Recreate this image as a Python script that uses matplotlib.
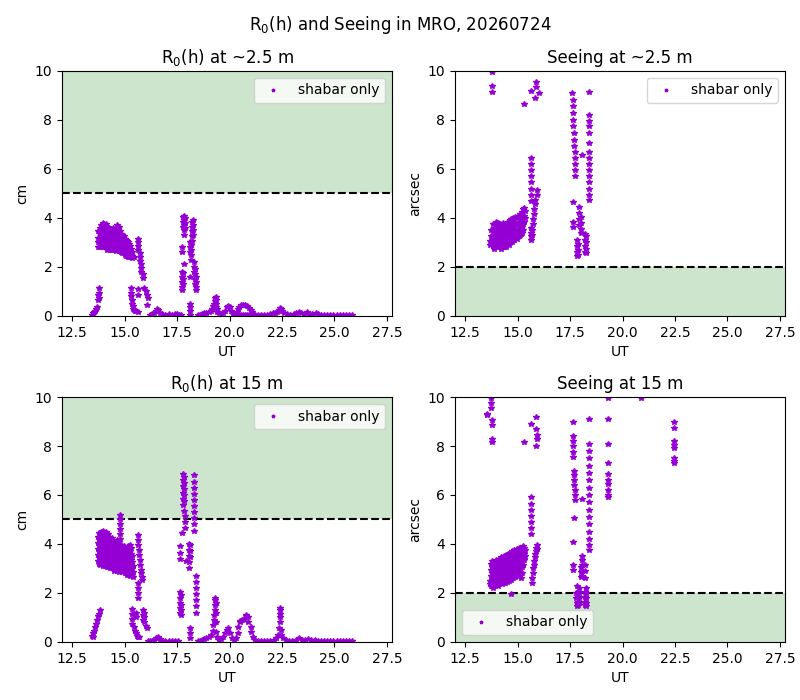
import matplotlib
matplotlib.use("Agg")
import matplotlib.pyplot as plt

# (UT, [values read at that UT])
r0_25_cols = [
    (13.45, [0.05]), (13.5, [0.1]), (13.55, [0.15]), (13.6, [0.2]), (13.65, [0.3]), (13.7, [0.35]),
    (13.75, [0.65, 0.85, 3.45, 3.2, 3.0, 2.8]),
    (13.8, [0.75, 0.95, 1.15]),
    (13.85, [3.6, 3.35, 3.1, 2.8]),
    (13.9, [3.7, 3.45, 3.2, 2.95]),
    (13.95, [3.8, 3.55, 3.3, 3.05, 2.8]),
    (14.0, [3.65, 3.4, 3.15, 2.9]),
    (14.05, [3.55, 3.3, 3.05, 2.8]),
    (14.1, [3.75, 3.5, 3.25, 3.0]),
    (14.15, [3.65, 3.4, 3.15, 2.9, 2.7]),
    (14.2, [3.5, 3.25, 3.0, 2.8]),
    (14.25, [3.6, 3.35, 3.1, 2.85]),
    (14.3, [3.45, 3.2, 2.95, 2.7]),
    (14.35, [3.55, 3.3, 3.05, 2.8]),
    (14.4, [3.4, 3.15, 2.9, 2.7]),
    (14.45, [3.6, 3.35, 3.1, 2.85]),
    (14.5, [3.5, 3.25, 3.0, 2.75]),
    (14.55, [3.45, 3.2, 2.95, 2.7]),
    (14.6, [3.6, 3.35, 3.1, 2.85, 2.65]),
    (14.65, [3.7, 3.45, 3.2, 2.95]),
    (14.7, [3.55, 3.3, 3.05, 2.8]),
    (14.75, [3.65, 3.4, 3.15, 2.9, 2.65]),
    (14.8, [3.45, 3.2, 2.95, 2.7]),
    (14.85, [3.35, 3.1, 2.85, 2.6]),
    (14.9, [3.3, 3.05, 2.8, 2.55]),
    (14.95, [3.25, 3.0, 2.75, 2.55]),
    (15.0, [3.15, 2.9, 2.7, 2.5]),
    (15.05, [3.1, 2.85, 2.65, 2.45]),
    (15.1, [3.05, 2.85, 2.6, 2.45]),
    (15.15, [3.0, 2.8, 2.6, 2.4]),
    (15.2, [2.95, 2.75, 2.55, 2.4]),
    (15.25, [2.85, 2.65, 2.45]),
    (15.3, [2.75, 2.55, 2.4, 1.15, 0.95, 0.8]),
    (15.35, [2.6, 2.45, 2.35, 0.65, 0.5]),
    (15.4, [0.4, 0.3]),
    (15.45, [2.4, 0.25]),
    (15.5, [0.2]),
    (15.55, [0.2]),
    (15.62, [1.1, 0.85, 0.15]),
    (15.66, [3.15, 3.0, 2.85, 2.7]),
    (15.72, [2.55, 2.4, 2.25]),
    (15.8, [2.1, 1.95, 1.8]),
    (15.86, [1.7, 1.55]),
    (15.95, [1.15]), (16.0, [1.0]), (16.05, [0.85, 0.45]), (16.1, [0.75]),
    (16.2, [0.05]), (16.3, [0.08]), (16.4, [0.1]), (16.5, [0.2]), (16.55, [0.3]), (16.6, [0.25]),
    (16.7, [0.1]), (16.8, [0.08]), (16.95, [0.05]), (17.1, [0.06]), (17.25, [0.05]), (17.4, [0.08]),
    (17.5, [0.06]), (17.6, [0.05]), (17.7, [0.05]),
    (17.72, [1.8, 1.6, 1.4, 1.2, 1.06]),
    (17.75, [2.8, 2.6]),
    (17.78, [1.75, 1.5, 1.3]),
    (17.8, [4.05, 3.85, 3.65]),
    (17.85, [4.1, 3.9, 3.7, 3.5, 3.3, 2.1]),
    (17.9, [4.0, 3.8, 3.6]),
    (18.1, [3.0, 2.8, 2.6, 1.6, 0.5, 0.35, 0.2, 0.05]),
    (18.15, [2.9, 2.7, 2.5, 2.3]),
    (18.2, [3.85, 3.65, 3.45, 3.25, 3.05]),
    (18.25, [3.9, 3.7, 3.5, 3.3]),
    (18.3, [2.2, 2.0, 1.8]),
    (18.35, [1.9, 1.7, 1.5, 1.3]),
    (18.4, [1.6, 1.4, 1.2, 1.06]),
    (18.5, [0.03]), (18.6, [0.05]), (18.7, [0.08]), (18.8, [0.1]), (18.9, [0.12]), (19.0, [0.15]),
    (19.1, [0.2]), (19.15, [0.3]), (19.2, [0.4]), (19.25, [0.5]), (19.3, [0.6, 0.72]),
    (19.35, [0.78, 0.65, 0.5, 0.35]), (19.4, [0.3, 0.15]), (19.5, [0.1]), (19.6, [0.08]),
    (19.7, [0.1]), (19.8, [0.2]), (19.9, [0.35]), (19.95, [0.42]), (20.0, [0.35]), (20.05, [0.2]),
    (20.15, [0.08]), (20.25, [0.05]), (20.35, [0.15]), (20.4, [0.28]), (20.45, [0.38, 0.05]),
    (20.55, [0.43, 0.05]), (20.65, [0.45, 0.05]), (20.75, [0.44, 0.05]), (20.85, [0.4, 0.05]),
    (20.95, [0.33, 0.05]), (21.0, [0.25]), (21.05, [0.15]), (21.1, [0.08]), (21.2, [0.05]),
    (21.35, [0.04]), (21.5, [0.05]), (21.65, [0.04]), (21.8, [0.05]), (21.95, [0.08]),
    (22.05, [0.1]), (22.15, [0.1]), (22.25, [0.15]), (22.35, [0.25]), (22.4, [0.33]),
    (22.45, [0.3]), (22.5, [0.2]), (22.6, [0.1]), (22.75, [0.06]), (22.9, [0.05]),
    (23.05, [0.08]), (23.15, [0.12]), (23.3, [0.18]), (23.4, [0.1]), (23.55, [0.08]),
    (23.7, [0.15]), (23.8, [0.08]), (23.95, [0.06]), (24.1, [0.13]), (24.2, [0.07]),
    (24.35, [0.05]), (24.5, [0.04]), (24.65, [0.05]), (24.8, [0.04]), (24.95, [0.03]),
    (25.1, [0.04]), (25.25, [0.03]), (25.4, [0.03]), (25.55, [0.02]), (25.7, [0.03]), (25.85, [0.02]),
]

see_25_cols = [
    (13.7, [3.05, 2.9]),
    (13.75, [3.5, 3.25, 3.0]),
    (13.78, [9.4]), (13.79, [9.95]), (13.8, [9.15]),
    (13.85, [3.75, 3.45, 3.15, 2.85]),
    (13.9, [3.6, 3.3, 3.0, 2.75]),
    (13.95, [3.85, 3.55, 3.25, 2.95]),
    (14.0, [3.7, 3.4, 3.1, 2.85]),
    (14.05, [3.8, 3.5, 3.2, 2.9]),
    (14.1, [3.65, 3.35, 3.05, 2.8]),
    (14.15, [3.75, 3.45, 3.15, 2.85]),
    (14.2, [3.55, 3.25, 2.95, 2.75]),
    (14.25, [3.7, 3.4, 3.1, 2.8]),
    (14.3, [3.8, 3.5, 3.2, 2.9]),
    (14.35, [3.65, 3.35, 3.05, 2.8]),
    (14.4, [3.75, 3.45, 3.15, 2.9]),
    (14.45, [3.6, 3.3, 3.0, 2.8]),
    (14.5, [3.8, 3.5, 3.2, 2.95]),
    (14.55, [3.85, 3.55, 3.25, 2.95]),
    (14.6, [3.7, 3.4, 3.1, 2.9]),
    (14.65, [3.9, 3.6, 3.3, 3.0]),
    (14.7, [3.95, 3.65, 3.35, 3.05]),
    (14.75, [3.85, 3.55, 3.25, 3.0]),
    (14.8, [4.0, 3.7, 3.4, 3.1]),
    (14.85, [3.95, 3.65, 3.35, 3.1]),
    (14.9, [4.05, 3.75, 3.45, 3.2]),
    (14.95, [4.0, 3.7, 3.4, 3.15]),
    (15.0, [4.1, 3.8, 3.5, 3.25]),
    (15.05, [4.05, 3.75, 3.45, 3.25]),
    (15.1, [4.15, 3.85, 3.55, 3.3]),
    (15.15, [4.1, 3.8, 3.55, 3.35]),
    (15.2, [4.25, 3.95, 3.65, 3.4]),
    (15.25, [4.35, 4.05, 3.75, 3.5]),
    (15.3, [4.4, 4.1, 3.85, 8.65]),
    (15.35, [4.3, 4.0]),
    (15.62, [6.45, 6.2, 5.95, 5.7, 5.45, 5.2, 4.95, 4.7, 3.6, 3.4, 3.25, 3.1]),
    (15.64, [9.2]),
    (15.7, [3.3, 3.5]),
    (15.75, [3.75, 3.95]),
    (15.8, [4.15, 4.35]),
    (15.85, [4.55, 4.75, 8.9]),
    (15.88, [9.55, 9.35]),
    (15.92, [4.95, 5.15]),
    (16.0, [9.1]),
    (17.6, [9.1]),
    (17.63, [8.8, 8.55, 8.3, 8.0, 7.75]),
    (17.66, [4.65, 3.85, 3.65]),
    (17.7, [7.45, 7.2, 6.95]),
    (17.75, [6.7, 6.45, 6.2, 5.95, 5.7]),
    (17.85, [3.1, 2.85, 2.6, 2.45]),
    (17.9, [2.95, 2.7, 2.5]),
    (17.95, [4.45, 4.2, 3.95, 3.7]),
    (18.0, [4.05, 3.8, 3.55, 3.4]),
    (18.06, [6.55]),
    (18.22, [3.35, 3.1, 2.85, 2.6]),
    (18.27, [3.25, 3.0, 2.75, 2.55]),
    (18.4, [9.15, 8.2, 7.95, 7.75, 7.45, 7.05, 6.7, 6.45, 6.2, 5.95, 5.7, 5.45, 5.2, 4.95, 4.75]),
]

r0_15_cols = [
    (13.45, [0.25]), (13.5, [0.2, 0.35]), (13.55, [0.45]), (13.6, [0.6]), (13.65, [0.75]),
    (13.7, [0.9]), (13.75, [1.05, 4.3, 4.05, 3.8, 3.55, 3.3]), (13.8, [1.15, 4.45, 4.2, 3.95, 3.7, 3.45, 3.2]),
    (13.83, [1.3]),
    (13.85, [4.4, 4.15, 3.9, 3.65, 3.4, 3.15]),
    (13.9, [4.5, 4.25, 4.0, 3.75, 3.5, 3.25]),
    (13.95, [4.55, 4.3, 4.05, 3.8, 3.55, 3.3, 3.1]),
    (14.0, [4.45, 4.2, 3.95, 3.7, 3.45, 3.2]),
    (14.05, [4.35, 4.1, 3.85, 3.6, 3.35, 3.1]),
    (14.1, [4.5, 4.25, 4.0, 3.75, 3.5, 3.25]),
    (14.15, [4.3, 4.05, 3.8, 3.55, 3.3, 3.05]),
    (14.2, [4.4, 4.15, 3.9, 3.65, 3.4, 3.15]),
    (14.25, [4.3, 4.05, 3.8, 3.55, 3.3, 3.05]),
    (14.3, [4.2, 3.95, 3.7, 3.45, 3.2, 3.0]),
    (14.35, [4.1, 3.85, 3.6, 3.35, 3.1]),
    (14.4, [4.25, 4.0, 3.75, 3.5, 3.25, 3.0]),
    (14.45, [4.0, 3.75, 3.5, 3.25, 3.0]),
    (14.5, [4.1, 3.85, 3.6, 3.35, 3.1, 2.9]),
    (14.55, [3.95, 3.7, 3.45, 3.2, 2.95]),
    (14.6, [4.05, 3.8, 3.55, 3.3, 3.05]),
    (14.65, [4.15, 3.9, 3.65, 3.4, 3.15, 2.9]),
    (14.7, [4.0, 3.75, 3.5, 3.25, 3.0]),
    (14.75, [4.1, 3.85, 3.6, 3.35, 3.1, 2.85]),
    (14.8, [5.2, 5.0, 4.8, 4.6, 4.4, 4.2, 3.95, 3.7, 3.45, 3.2, 2.95]),
    (14.85, [3.95, 3.7, 3.45, 3.2, 2.95]),
    (14.9, [3.85, 3.6, 3.35, 3.1, 2.85]),
    (14.95, [3.9, 3.65, 3.4, 3.15, 2.9]),
    (15.0, [3.75, 3.5, 3.25, 3.0, 2.8]),
    (15.05, [3.8, 3.55, 3.3, 3.05, 2.8]),
    (15.1, [3.7, 3.45, 3.2, 2.95, 2.75]),
    (15.15, [3.9, 3.65, 3.4, 3.15, 2.9]),
    (15.2, [3.75, 3.5, 3.25, 3.0, 2.75]),
    (15.25, [3.95, 3.7, 3.45, 3.2, 2.95, 2.7]),
    (15.3, [3.85, 3.6, 3.35, 3.1, 2.85]),
    (15.35, [3.5, 3.25, 3.0, 2.75, 1.35, 1.15, 0.95, 0.75]),
    (15.4, [3.1, 2.85, 2.65]),
    (15.45, [0.6]), (15.5, [0.45]), (15.55, [0.35, 1.2, 1.0]), (15.6, [0.25]),
    (15.65, [0.2, 4.35, 4.15, 3.95, 2.4, 2.2, 2.0, 1.8]),
    (15.7, [3.75, 3.55, 0.2]), (15.75, [3.35, 3.15]), (15.8, [2.95, 2.8]), (15.85, [2.65, 2.55]),
    (15.9, [1.3, 1.1, 0.9]), (15.95, [1.2, 1.0, 0.8]), (16.0, [0.65]), (16.05, [0.55]),
    (16.1, [0.02]), (16.2, [0.04]), (16.3, [0.05]), (16.4, [0.08]), (16.5, [0.15]), (16.6, [0.2]),
    (16.7, [0.12]), (16.8, [0.06]), (16.95, [0.05]), (17.1, [0.04]), (17.25, [0.06]),
    (17.4, [0.05]), (17.55, [0.04]),
    (17.62, [2.05, 1.8, 1.6, 1.4, 1.2, 3.9, 3.65, 3.4]),
    (17.68, [1.9, 1.5, 1.3, 1.1]),
    (17.75, [4.45]),
    (17.8, [6.85, 6.6, 6.35, 6.1, 5.85, 5.6]),
    (17.85, [6.75, 6.5, 6.25, 6.0, 5.75, 5.35]),
    (17.9, [5.15, 4.9, 4.65]),
    (17.95, [3.3]),
    (18.05, [4.0, 3.75, 3.5, 3.25, 3.0]),
    (18.12, [3.95, 3.7, 3.45, 0.55, 0.35, 0.15]),
    (18.3, [6.8, 6.55, 6.3, 6.05, 5.8, 5.55]),
    (18.33, [5.3, 5.05, 4.8, 4.55]),
    (18.4, [2.7, 2.45, 2.2, 1.95, 1.7, 1.45, 1.2]),
    (18.5, [0.04]), (18.6, [0.06]), (18.7, [0.1]), (18.8, [0.12]), (18.9, [0.15]), (19.0, [0.2]),
    (19.1, [0.3]), (19.2, [0.45, 0.7]), (19.25, [0.9, 1.1]), (19.3, [1.3, 1.5, 1.7, 1.8]),
    (19.35, [1.6, 1.2, 0.8, 0.4]), (19.4, [0.2]), (19.5, [0.1]), (19.6, [0.12]), (19.7, [0.2]),
    (19.8, [0.35]), (19.87, [0.5]), (19.92, [0.55]), (20.0, [0.35]), (20.1, [0.15]), (20.2, [0.1]),
    (20.3, [0.15]), (20.4, [0.35, 0.6]), (20.5, [0.8, 0.85]), (20.6, [0.9]), (20.7, [0.95]),
    (20.8, [1.05, 1.1]), (20.9, [1.0, 0.8]), (21.0, [0.6, 0.4]), (21.1, [0.2]), (21.2, [0.08]),
    (21.35, [0.05]), (21.5, [0.04]), (21.65, [0.05]), (21.8, [0.04]), (21.95, [0.06]),
    (22.1, [0.1]), (22.2, [0.15]), (22.3, [0.3]), (22.35, [0.55]), (22.4, [1.4, 1.3, 1.15, 1.0, 0.8]),
    (22.45, [0.5, 0.3]), (22.55, [0.15]), (22.7, [0.08]), (22.85, [0.05]), (23.0, [0.06]),
    (23.15, [0.1]), (23.3, [0.17]), (23.45, [0.1]), (23.6, [0.08]), (23.75, [0.14]),
    (23.9, [0.08]), (24.05, [0.1]), (24.2, [0.06]), (24.35, [0.05]), (24.5, [0.04]),
    (24.65, [0.03]), (24.8, [0.04]), (24.95, [0.03]), (25.1, [0.03]), (25.25, [0.02]),
    (25.4, [0.03]), (25.55, [0.02]), (25.7, [0.02]), (25.85, [0.02]),
]

see_15_cols = [
    (13.55, [9.3, 9.25]), (13.75, [9.95, 9.75, 9.55]), (13.8, [9.05, 8.85, 8.3, 8.15]),
    (13.7, [2.5, 2.35]),
    (13.75, [3.2, 2.95, 2.7, 2.45, 2.3]),
    (13.8, [3.3, 3.05, 2.8, 2.55, 2.3]),
    (13.85, [3.1, 2.85, 2.6, 2.35, 2.2]),
    (13.9, [3.25, 3.0, 2.75, 2.5]),
    (13.95, [3.35, 3.1, 2.85, 2.6, 2.35]),
    (14.0, [3.2, 2.95, 2.7, 2.45]),
    (14.05, [3.3, 3.05, 2.8, 2.55, 2.3]),
    (14.1, [3.4, 3.15, 2.9, 2.65, 2.4]),
    (14.15, [3.25, 3.0, 2.75, 2.5]),
    (14.2, [3.45, 3.2, 2.95, 2.7, 2.45]),
    (14.25, [3.3, 3.05, 2.8, 2.55, 2.35]),
    (14.3, [3.4, 3.15, 2.9, 2.65, 2.4]),
    (14.35, [3.5, 3.25, 3.0, 2.75, 2.5]),
    (14.4, [3.35, 3.1, 2.85, 2.6, 2.4]),
    (14.45, [3.55, 3.3, 3.05, 2.8, 2.55]),
    (14.5, [3.45, 3.2, 2.95, 2.7, 2.45]),
    (14.55, [3.6, 3.35, 3.1, 2.85, 2.6]),
    (14.6, [3.5, 3.25, 3.0, 2.75, 2.5]),
    (14.65, [3.65, 3.4, 3.15, 2.9, 2.65]),
    (14.7, [3.55, 3.3, 3.05, 2.8, 2.55, 1.95]),
    (14.75, [3.7, 3.45, 3.2, 2.95, 2.7]),
    (14.8, [3.6, 3.35, 3.1, 2.85, 2.6]),
    (14.85, [3.75, 3.5, 3.25, 3.0, 2.75]),
    (14.9, [3.65, 3.4, 3.15, 2.9, 2.65]),
    (14.95, [3.8, 3.55, 3.3, 3.05, 2.8]),
    (15.0, [3.7, 3.45, 3.2, 2.95, 2.7]),
    (15.05, [3.85, 3.6, 3.35, 3.1, 2.85]),
    (15.1, [3.75, 3.5, 3.25, 3.0, 2.75]),
    (15.15, [3.85, 3.6, 3.35, 3.1, 2.6]),
    (15.2, [3.8, 3.55, 3.3, 3.05, 2.8]),
    (15.25, [3.9, 3.65, 3.4, 3.15]),
    (15.3, [3.85, 3.6, 3.35, 8.15]),
    (15.35, [3.75, 3.5]),
    (15.64, [5.9, 5.65, 5.4, 5.15, 4.9, 4.65, 4.4, 8.9]),
    (15.69, [2.4, 2.6]), (15.73, [2.8, 3.0]), (15.78, [3.15, 3.3]), (15.83, [3.45, 3.6]),
    (15.88, [3.7, 3.85, 9.2, 8.7, 8.0]), (15.93, [3.95, 3.8, 8.45, 8.3]),
    (17.62, [9.0, 8.4, 8.2, 8.0, 7.75, 7.55, 4.1, 3.15, 2.95]),
    (17.67, [7.0, 6.8, 6.6, 6.4, 5.06]),
    (17.72, [6.2, 6.0, 5.8]),
    (17.8, [2.0, 1.8]), (17.85, [2.3, 1.6, 1.45]), (17.9, [2.05, 1.85, 1.65, 1.5]),
    (17.95, [2.2, 2.0, 1.8, 1.6]), (18.0, [2.65, 2.85, 3.05]), (18.05, [2.7, 2.9, 3.15, 3.35, 3.5]),
    (18.06, [5.85]),
    (18.2, [2.6, 2.9, 3.15, 2.05, 1.85, 1.65, 1.5]),
    (18.25, [2.2, 2.0, 1.8, 1.6, 1.45]),
    (18.4, [9.1, 8.1, 7.8, 7.5, 7.2, 6.9, 6.6, 6.3, 6.0, 5.7, 5.4, 5.1, 4.8, 4.5, 4.2, 3.95, 3.75]),
    (19.3, [9.95, 9.1, 8.1, 7.3, 6.85, 6.6, 6.45, 6.2, 6.0, 5.9]),
    (20.87, [9.98]),
    (22.45, [9.0, 8.75, 8.2, 8.05, 7.9, 7.5, 7.4, 7.3]),
]

titles = ["R$_0$(h) at ~2.5 m", "Seeing at ~2.5 m", "R$_0$(h) at 15 m", "Seeing at 15 m"]
ylabels = ["cm", "arcsec", "cm", "arcsec"]
r0_limit = 5
seeing_limit = 2


def expand(cols):
    ut = [t for t, vals in cols for _ in vals]
    val = [v for _, vals in cols for v in vals]
    return ut, val


fig, axs = plt.subplots(2, 2, figsize=(8, 7), dpi=100)
fig.subplots_adjust(left=0.0775, right=0.98125, top=0.8986, bottom=0.0829,
                    wspace=0.191, hspace=0.331)
fig.suptitle("R$_0$(h) and Seeing in MRO, 20260724")

panels = [r0_25_cols, see_25_cols, r0_15_cols, see_15_cols]
legend_loc = ["upper right", "upper right", "upper right", "lower left"]

for i, ax in enumerate(axs.flat):
    ut, val = expand(panels[i])
    if ylabels[i] == "cm":
        ax.axhspan(r0_limit, 10, color="green", alpha=0.2, lw=0)
        ax.axhline(r0_limit, color="k", ls="--")
    else:
        ax.axhspan(0, seeing_limit, color="green", alpha=0.2, lw=0)
        ax.axhline(seeing_limit, color="k", ls="--")
    ax.plot(ut, val, "*", color="darkviolet", ms=4.2, label="shabar only")
    ax.set_xlim(12.02, 27.74)
    ax.set_ylim(0, 10)
    ax.set_title(titles[i])
    ax.set_xlabel("UT")
    ax.set_ylabel(ylabels[i])
    ax.legend(loc=legend_loc[i], markerscale=0.6)

fig.savefig("out.png")
